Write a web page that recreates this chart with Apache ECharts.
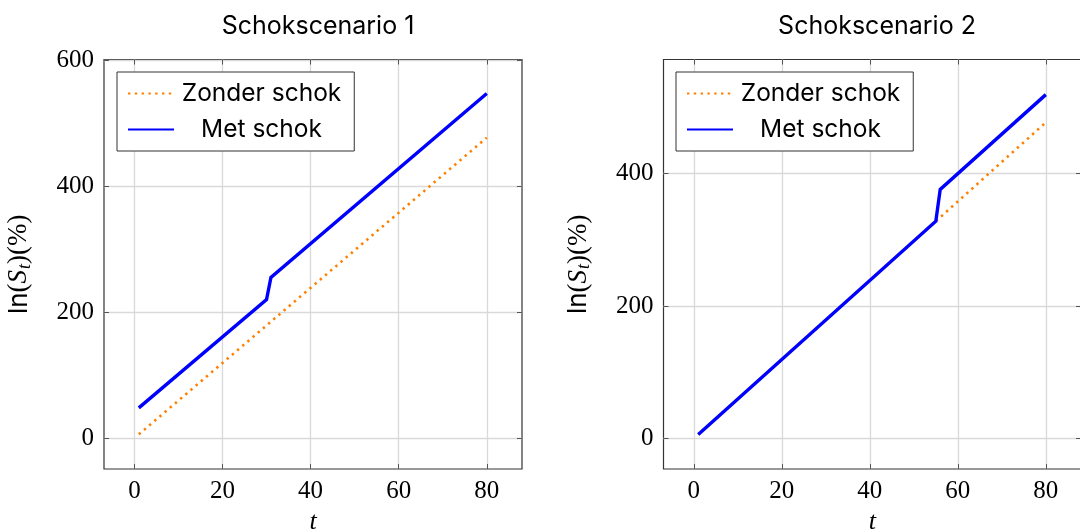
<!DOCTYPE html>
<html>
<head>
<meta charset="utf-8">
<script src="https://cdn.jsdelivr.net/npm/echarts@6/dist/echarts.min.js"></script>
<style>html,body{margin:0;padding:0;background:#fff}#c{width:1080px;height:532px}</style>
</head>
<body>
<div id="c"></div>
<script>
// ---- data ----
const titles = ['Schokscenario 1', 'Schokscenario 2'];
const seriesNames = ['Zonder schok', 'Met schok'];
const tZonder = [1, 80];
const zonder = [6, 477];
const tMet1 = [1, 30, 31, 80];
const met1 = [48, 220, 255, 547];
const tMet2 = [1, 55, 56, 80];
const met2 = [6, 328, 376, 519];
const xTicks = [0, 20, 40, 60, 80];
const yTicks1 = [0, 200, 400, 600];
const yTicks2 = [0, 200, 400];

const pairs = (xs, ys) => xs.map((x, i) => [x, ys[i]]);

const serif = '"Liberation Serif", "DejaVu Serif", serif';
const sans = 'Inter, "Noto Sans", sans-serif';
const ORANGE = '#ff8000', BLUE = '#0000ff';

const grids = [
  {left: 104, right: 558, top: 59.5, bottom: 63},
  {left: 663.5, right: -1, top: 59.5, bottom: 63}
];
const yRanges = [[-49, 601], [-46, 572]];
const yTickSets = [yTicks1, yTicks2];

const xAxes = [], yAxes = [], series = [], legends = [], titleArr = [];
const tickStyle = {show: true, inside: true, length: 5, lineStyle: {color: '#555', width: 1}};

for (let g = 0; g < 2; g++) {
  xAxes.push({
    type: 'value', gridIndex: g, min: -6.9, max: 88,
    name: 't', nameLocation: 'middle', nameGap: 36,
    nameTextStyle: {fontFamily: serif, fontStyle: 'italic', fontSize: 26, color: '#000'},
    axisLine: {show: false, onZero: false},
    axisTick: Object.assign({customValues: xTicks}, tickStyle),
    axisLabel: {customValues: xTicks, fontFamily: serif, fontSize: 25, color: '#000', margin: 10},
    splitLine: {show: true, lineStyle: {color: '#d9d9d9', width: 1.3}}
  });
  xAxes.push({
    type: 'value', gridIndex: g, min: -6.9, max: 88, position: 'top',
    axisLine: {show: false, onZero: false},
    axisTick: Object.assign({customValues: xTicks}, tickStyle),
    axisLabel: {show: false, customValues: xTicks},
    splitLine: {show: false}
  });
  const yt = yTickSets[g];
  yAxes.push({
    type: 'value', gridIndex: g, min: yRanges[g][0], max: yRanges[g][1],
    name: '{a|ln}{b|(}{c|S}{d|t}{b|)(%)}', nameLocation: 'middle', nameGap: 70, nameRotate: 90,
    nameTextStyle: {
      rich: {
        a: {fontFamily: sans, fontSize: 26, color: '#000'},
        b: {fontFamily: serif, fontSize: 27, color: '#000'},
        c: {fontFamily: serif, fontStyle: 'italic', fontSize: 27, color: '#000'},
        d: {fontFamily: serif, fontStyle: 'italic', fontSize: 18, color: '#000', verticalAlign: 'bottom', padding: [12, 0, 0, 1]}
      }
    },
    axisLine: {show: false, onZero: false},
    axisTick: Object.assign({customValues: yt}, tickStyle),
    axisLabel: {customValues: yt, fontFamily: serif, fontSize: 25, color: '#000', margin: 10},
    splitLine: {show: true, lineStyle: {color: '#d9d9d9', width: 1.3}}
  });
  yAxes.push({
    type: 'value', gridIndex: g, min: yRanges[g][0], max: yRanges[g][1], position: 'right',
    axisLine: {show: false, onZero: false},
    axisTick: Object.assign({customValues: yt}, tickStyle),
    axisLabel: {show: false, customValues: yt},
    splitLine: {show: false}
  });
  const metT = g === 0 ? tMet1 : tMet2;
  const metV = g === 0 ? met1 : met2;
  series.push({
    name: seriesNames[0], type: 'line', xAxisIndex: 2 * g, yAxisIndex: 2 * g,
    data: pairs(tZonder, zonder), symbol: 'none', silent: true, z: 2,
    lineStyle: {color: ORANGE, width: 2.6, type: [2.4, 4.4], cap: 'butt'},
    itemStyle: {color: ORANGE}
  });
  series.push({
    name: seriesNames[1], type: 'line', xAxisIndex: 2 * g, yAxisIndex: 2 * g,
    data: pairs(metT, metV), symbol: 'none', silent: true, z: 3,
    lineStyle: {color: BLUE, width: 3.4, join: 'miter'},
    itemStyle: {color: BLUE}
  });
  legends.push({
    data: seriesNames,
    left: g === 0 ? 117 : 676, top: 72,
    orient: 'vertical', itemGap: 11,
    itemWidth: 46, itemHeight: 24,
    padding: [9, 13, 9, 10],
    backgroundColor: '#fff', borderColor: '#333', borderWidth: 1, borderRadius: 0,
    selectedMode: false,
    itemStyle: {opacity: 0},
    formatter: n => '{a|' + n + '}',
    textStyle: {rich: {a: {fontFamily: sans, fontSize: 24.5, color: '#000', width: 165, align: 'center'}}}
  });
  titleArr.push({
    text: titles[g], left: g === 0 ? 313 : 872, top: 9, textAlign: 'center',
    textStyle: {fontFamily: sans, fontSize: 25, fontWeight: 'normal', color: '#000'}
  });
}

const chart = echarts.init(document.getElementById('c'), null, {renderer: 'canvas'});
chart.setOption({
  animation: false,
  backgroundColor: '#fff',
  title: titleArr,
  legend: legends,
  grid: grids.map(g => Object.assign({show: true, borderColor: '#333', borderWidth: 1.2, backgroundColor: 'transparent', containLabel: false, outerBoundsMode: 'none'}, g)),
  xAxis: xAxes,
  yAxis: yAxes,
  series: series
});
</script>
</body>
</html>
